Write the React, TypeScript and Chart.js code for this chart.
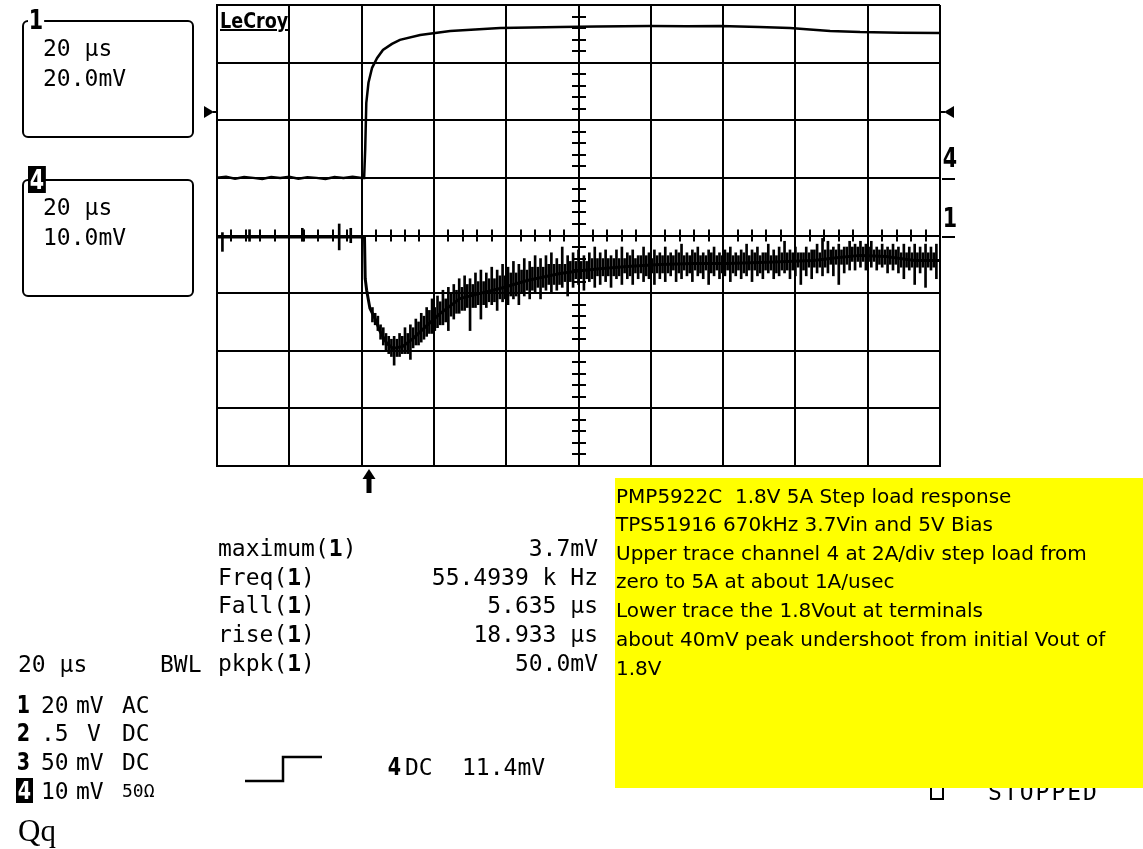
import React, { useEffect, useRef } from "react";
import { Chart, registerables } from "chart.js";

Chart.register(...registerables);

// ---------- scope settings ----------
const timeMinUs = 0;
const timeMaxUs = 200;
const timePerDivUs = 20;
const divMin = -4;
const divMax = 4;
const ch1MvPerDiv = 20;
const ch1OffsetDiv = 0;
const ch4AmpsPerDiv = 2;
const ch4OffsetDiv = 1;
const triggerTimeUs = 42;
const triggerLevelAmps = 2.3;

// ---------- channel 4 (load current, A) ----------
const ch4TimesUs = [
  0, 2.5, 5, 7.5, 10, 12.5, 15, 17.5, 20, 22.5, 25, 27.5, 30, 32.5, 35, 37.5, 40.0,
  40.7, 41.0, 41.3, 41.9, 42.9, 44.3, 45.9, 48.4, 50.6, 56.2, 64.5, 78.3, 94.9, 105.0,
  119.8, 130.0, 139.1, 150.0, 158.5, 164.0, 169.6, 177.9, 188.9, 200.0,
];
const ch4Amps = [
  0, 0.04, -0.03, 0.03, 0, -0.04, 0.03, 0, 0.04, -0.03, 0.02, 0, -0.04, 0.03, 0, 0.04, 0,
  0, 1.0, 2.6, 3.3, 3.82, 4.16, 4.44, 4.65, 4.79, 4.96, 5.1, 5.2, 5.24, 5.25,
  5.27, 5.26, 5.27, 5.24, 5.2, 5.15, 5.1, 5.06, 5.04, 5.03,
];

// ---------- channel 1 (Vout AC, mV) ----------
const ch1TimesUs = [
  0, 40.8, 41.0, 41.4, 42.3, 43.7, 45.1, 47.0, 48.7, 51.4, 54.2, 58.1, 61.7, 67.2, 72.8,
  78.3, 85.8, 94.9, 100.4, 105.9, 113.4, 122.5, 131.7, 140.9, 150.0, 165.0, 172.0, 178.0,
  185.0, 193.0, 200.0,
];
const ch1Mv = [
  -0.5, -0.5, -15, -19, -25.3, -28.8, -33.3, -37.5, -39.2, -38.5, -35.8, -31.2, -27.1, -21.9,
  -20.1, -18.4, -15.6, -13.2, -12.2, -11.5, -10.8, -10.1, -9.7, -9.7, -9.4, -8.7, -7.6, -6.9,
  -7.3, -8.7, -8.7,
];

// switching ripple spikes on channel 1 (peak-detect min / max, mV)
const ch1SpikeTimesUs = [
  1.5, 9.0, 23.6, 33.8, 37.0,
  43.0, 44.5, 46.0, 47.5, 49.0, 50.5, 52.0, 53.5, 55.0, 56.5,
  58.0, 59.5, 61.0, 62.5, 64.0, 65.5, 67.0, 68.5, 70.0, 71.5,
  73.0, 74.5, 76.0, 77.5, 79.0, 80.5, 82.0, 83.5, 85.0, 86.5,
  88.0, 89.5, 91.0, 92.5, 94.0, 95.5, 97.0, 98.5, 100.0, 101.5,
  103.0, 104.5, 106.0, 107.5, 109.0, 110.5, 112.0, 113.5, 115.0, 116.5,
  118.0, 119.5, 121.0, 122.5, 124.0, 125.5, 127.0, 128.5, 130.0, 131.5,
  133.0, 134.5, 136.0, 137.5, 139.0, 140.5, 142.0, 143.5, 145.0, 146.5,
  148.0, 149.5, 151.0, 152.5, 154.0, 155.5, 157.0, 158.5, 160.0, 161.5,
  163.0, 164.5, 166.0, 167.5, 169.0, 170.5, 172.0, 173.5, 175.0, 176.5,
  178.0, 179.5, 181.0, 182.5, 184.0, 185.5, 187.0, 188.5, 190.0, 191.5,
  193.0, 194.5, 196.0, 197.5, 199.0,
];
const ch1SpikeLowMv = [
  -5.5, -2, -2, -5, -2.5,
  -30, -33, -38, -41, -45, -42, -41, -43, -38, -37,
  -35, -34, -32, -31, -33, -29, -27, -26, -33, -25,
  -29, -25, -24, -26, -23, -24, -22, -24, -21, -22,
  -20, -22, -19, -20, -19, -18, -21, -18, -17, -19,
  -16, -18, -17, -16, -18, -15, -17, -15, -17, -15,
  -16, -15, -17, -15, -16, -14, -16, -15, -14, -16,
  -14, -15, -17, -14, -15, -14, -16, -14, -15, -14,
  -16, -14, -15, -13, -15, -14, -13, -15, -14, -17,
  -14, -15, -13, -14, -13, -14, -17, -13, -12, -12,
  -11, -12, -11, -12, -11, -13, -12, -13, -15, -12,
  -17, -13, -18, -12, -15,
];
const ch1SpikeHighMv = [
  1, 2, 2.5, 4, 2.5,
  -25, -28, -32, -35, -35, -34, -32, -31, -29, -27,
  -25, -22, -21, -19, -18, -17, -15, -14, -15, -13,
  -12, -13, -11, -12, -10, -11, -9, -10, -8, -9,
  -7, -8, -7, -6, -8, -4, -7, -6, -5, -7,
  -6, -4, -6, -5, -7, -5, -4, -6, -5, -7,
  -4, -6, -5, -6, -4, -6, -5, -3, -6, -5,
  -4, -6, -5, -4, -6, -5, -4, -6, -5, -3,
  -5, -4, -6, -3, -5, -4, -2, -5, -4, -6,
  -4, -5, -3, -1, -2, -4, -3, -4, -2, -3,
  -2, -3, -2, -4, -3, -4, -3, -4, -3, -4,
  -3, -4, -3, -4, -3,
];

// smaller ringing between the main spikes (mV)
const ch1RingTimesUs = [
  43.75, 45.25, 46.75, 48.25, 49.75, 51.25, 52.75, 54.25, 55.75, 57.25,
  58.75, 60.25, 61.75, 63.25, 64.75, 66.25, 67.75, 69.25, 70.75, 72.25,
  73.75, 75.25, 76.75, 78.25, 79.75, 81.25, 82.75, 84.25, 85.75, 87.25,
  88.75, 90.25, 91.75, 93.25, 94.75, 96.25, 97.75, 99.25, 100.75, 102.25,
  103.75, 105.25, 106.75, 108.25, 109.75, 111.25, 112.75, 114.25, 115.75, 117.25,
  118.75, 120.25, 121.75, 123.25, 124.75, 126.25, 127.75, 129.25, 130.75, 132.25,
  133.75, 135.25, 136.75, 138.25, 139.75, 141.25, 142.75, 144.25, 145.75, 147.25,
  148.75, 150.25, 151.75, 153.25, 154.75, 156.25, 157.75, 159.25, 160.75, 162.25,
  163.75, 165.25, 166.75, 168.25, 169.75, 171.25, 172.75, 174.25, 175.75, 177.25,
  178.75, 180.25, 181.75, 183.25, 184.75, 186.25, 187.75, 189.25, 190.75, 192.25,
  193.75, 195.25, 196.75, 198.25,
];
const ch1RingLowMv = [
  -31, -36, -40, -42, -42, -41, -41, -39, -38, -36,
  -34, -33, -31, -30, -28, -27, -26, -25, -25, -24,
  -24, -23, -23, -22, -22, -21, -21, -20, -19, -19,
  -18, -18, -17, -17, -17, -16, -16, -15, -15, -15,
  -15, -14, -14, -14, -14, -14, -13, -14, -13, -13,
  -14, -13, -13, -13, -13, -12, -13, -12, -13, -12,
  -13, -12, -13, -12, -13, -12, -13, -12, -13, -12,
  -12, -13, -12, -12, -13, -12, -12, -12, -11, -12,
  -11, -11, -11, -11, -10, -10, -10, -10, -9, -9,
  -9, -9, -9, -10, -10, -10, -10, -11, -11, -11,
  -11, -11, -11, -11,
];
const ch1RingHighMv = [
  -27, -31, -34, -36, -36, -35, -34, -32, -30, -28,
  -26, -25, -23, -22, -20, -19, -18, -17, -17, -16,
  -16, -15, -15, -14, -14, -13, -13, -12, -12, -11,
  -11, -11, -10, -10, -10, -10, -9, -9, -9, -9,
  -8, -8, -8, -8, -8, -8, -8, -7, -8, -7,
  -7, -8, -7, -7, -7, -7, -6, -7, -7, -6,
  -7, -7, -6, -7, -7, -6, -7, -7, -6, -7,
  -6, -7, -6, -7, -7, -6, -6, -6, -6, -6,
  -6, -5, -6, -5, -5, -5, -5, -4, -4, -4,
  -4, -4, -5, -5, -5, -5, -5, -6, -6, -6,
  -6, -6, -6, -6,
];

// ---------- texts ----------
const measureLabels = ["maximum", "Freq", "Fall", "rise", "pkpk"];
const measureValues = ["3.7mV", "55.4939 k Hz", "5.635 µs", "18.933 µs", "50.0mV"];
const channelNums = ["1", "2", "3", "4"];
const channelScales = ["20", ".5", "50", "10"];
const channelUnits = ["mV", "V", "mV", "mV"];
const channelCoupling = ["AC", "DC", "DC", "50Ω"];
const noteLines = [
  "PMP5922C  1.8V 5A Step load response",
  "TPS51916 670kHz 3.7Vin and 5V Bias",
  "Upper trace channel 4 at 2A/div step load from",
  "zero to 5A at about 1A/usec",
  "Lower trace the 1.8Vout at terminals",
  "about 40mV peak undershoot from initial Vout of",
  "1.8V",
];

const MONO = '"DejaVu Sans Mono", "Liberation Mono", monospace';
const NARROW = '"Liberation Sans Narrow", "DejaVu Sans Condensed", "DejaVu Sans", sans-serif';

const ch4Div = (a: number) => ch4OffsetDiv + a / ch4AmpsPerDiv;
const ch1Div = (mv: number) => ch1OffsetDiv + mv / ch1MvPerDiv;

const scopePlugin = {
  id: "scopeMarks",
  beforeDatasetsDraw(chart: any) {
    const { ctx, scales } = chart;
    const x = scales.x;
    const y = scales.y;
    ctx.save();
    ctx.strokeStyle = "#000";
    ctx.lineWidth = 2;
    const y0 = y.getPixelForValue(0);
    const nX = Math.round((timeMaxUs - timeMinUs) / (timePerDivUs / 5));
    for (let k = 0; k <= nX; k++) {
      const px = Math.round(x.getPixelForValue(timeMinUs + (k * timePerDivUs) / 5));
      ctx.beginPath();
      ctx.moveTo(px, y0 - 6);
      ctx.lineTo(px, y0 + 6);
      ctx.stroke();
    }
    const xc = Math.round(x.getPixelForValue((timeMinUs + timeMaxUs) / 2));
    const nY = (divMax - divMin) * 5;
    for (let k = 0; k <= nY; k++) {
      const py = Math.round(y.getPixelForValue(divMin + k / 5));
      ctx.beginPath();
      ctx.moveTo(xc - 7, py);
      ctx.lineTo(xc + 7, py);
      ctx.stroke();
    }
    ctx.restore();
  },
  afterDraw(chart: any) {
    const { ctx, chartArea: a, scales } = chart;
    const x = scales.x;
    const y = scales.y;
    ctx.save();
    ctx.fillStyle = "#000";
    ctx.strokeStyle = "#000";
    ctx.lineWidth = 2;
    // trigger level markers
    const ty = Math.round(y.getPixelForValue(ch4Div(triggerLevelAmps)));
    ctx.beginPath();
    ctx.moveTo(a.left - 13, ty - 6);
    ctx.lineTo(a.left - 3, ty);
    ctx.lineTo(a.left - 13, ty + 6);
    ctx.closePath();
    ctx.fill();
    ctx.beginPath();
    ctx.moveTo(a.left - 4, ty);
    ctx.lineTo(a.left, ty);
    ctx.stroke();
    ctx.beginPath();
    ctx.moveTo(a.right + 14, ty - 6);
    ctx.lineTo(a.right + 4, ty);
    ctx.lineTo(a.right + 14, ty + 6);
    ctx.closePath();
    ctx.fill();
    ctx.beginPath();
    ctx.moveTo(a.right, ty);
    ctx.lineTo(a.right + 5, ty);
    ctx.stroke();
    // channel offset markers
    [ch4OffsetDiv, ch1OffsetDiv].forEach((d) => {
      const py = Math.round(y.getPixelForValue(d)) + 1;
      ctx.beginPath();
      ctx.moveTo(a.right + 2, py);
      ctx.lineTo(a.right + 15, py);
      ctx.stroke();
    });
    // trigger time arrow
    const tx = Math.round(x.getPixelForValue(triggerTimeUs));
    const b = a.bottom;
    ctx.beginPath();
    ctx.moveTo(tx, b + 3);
    ctx.lineTo(tx - 6.5, b + 13);
    ctx.lineTo(tx + 6.5, b + 13);
    ctx.closePath();
    ctx.fill();
    ctx.fillRect(tx - 2.5, b + 12, 5, 15);
    ctx.restore();
  },
};

function Txt(props: {
  x?: number;
  right?: number;
  cy: number;
  size?: number;
  font?: string;
  bold?: boolean;
  children: any;
  style?: any;
}) {
  const size = props.size ?? 23;
  const st: any = {
    position: "absolute",
    top: props.cy - size * 0.5,
    fontSize: size,
    lineHeight: `${size}px`,
    fontFamily: props.font ?? MONO,
    fontWeight: props.bold ? "bold" : "normal",
    whiteSpace: "pre",
    color: "#000",
    ...props.style,
  };
  if (props.right !== undefined) {
    st.right = 1143 - props.right;
    st.textAlign = "right";
  } else st.left = props.x;
  return <div style={st}>{props.children}</div>;
}

function Glyph(props: {
  x: number;
  cy: number;
  ch: string;
  inverse?: boolean;
  size?: number;
  clear?: boolean;
}) {
  const size = props.size ?? 27;
  return (
    <div
      style={{
        position: "absolute",
        left: props.x,
        top: props.cy - size * 0.52,
        height: size,
        fontSize: size,
        lineHeight: `${size}px`,
        fontFamily: NARROW,
        fontWeight: "bold",
        color: props.inverse ? "#fff" : "#000",
        background: props.inverse ? "#000" : props.clear ? "transparent" : "#fff",
        padding: props.inverse ? "0 2px" : "0 1px",
        transform: "scaleX(0.85)",
        transformOrigin: "left center",
      }}
    >
      {props.ch}
    </div>
  );
}

function InfoBox(props: { top: number; label: string; inverse?: boolean; line1: string; line2: string }) {
  return (
    <>
      <div
        style={{
          position: "absolute",
          left: 22,
          top: props.top,
          width: 168,
          height: 114,
          border: "2px solid #000",
          borderRadius: 6,
          boxSizing: "content-box",
        }}
      />
      <Glyph x={28} cy={props.top + (props.inverse ? 1 : 0)} ch={props.label} inverse={props.inverse} />
      <Txt x={43} cy={props.top + 28}>{props.line1}</Txt>
      <Txt x={43} cy={props.top + 58}>{props.line2}</Txt>
    </>
  );
}

export default function App() {
  const canvasRef = useRef<HTMLCanvasElement | null>(null);

  useEffect(() => {
    const canvas = canvasRef.current;
    if (!canvas) return;
    const gridStyle = { color: "#000", lineWidth: 2, drawTicks: false, offset: false };
    const chart = new Chart(canvas, {
      type: "line",
      data: {
        datasets: [
          {
            type: "line",
            label: "Ch4",
            data: ch4TimesUs.map((t, i) => ({ x: t, y: ch4Div(ch4Amps[i]) })),
            borderColor: "#000",
            borderWidth: 2.5,
            pointRadius: 0,
            tension: 0,
          },
          {
            type: "line",
            label: "Ch1",
            data: ch1TimesUs.map((t, i) => ({ x: t, y: ch1Div(ch1Mv[i]) })),
            borderColor: "#000",
            borderWidth: 3,
            pointRadius: 0,
            tension: 0,
          },
          {
            type: "bar",
            label: "Ch1 ripple",
            data: ch1SpikeTimesUs.map((t, i) => ({
              x: t,
              y: [ch1Div(ch1SpikeLowMv[i]), ch1Div(ch1SpikeHighMv[i])],
            })) as any,
            backgroundColor: "#000",
            borderWidth: 0,
            barThickness: 2,
            grouped: false,
          } as any,
          {
            type: "bar",
            label: "Ch1 ringing",
            data: ch1RingTimesUs.map((t, i) => ({
              x: t,
              y: [ch1Div(ch1RingLowMv[i]), ch1Div(ch1RingHighMv[i])],
            })) as any,
            backgroundColor: "#000",
            borderWidth: 0,
            barThickness: 2,
            grouped: false,
          } as any,
        ],
      },
      options: {
        responsive: false,
        animation: false,
        events: [],
        layout: { padding: { left: 217, right: 203, top: 5, bottom: 383 } },
        plugins: { legend: { display: false }, tooltip: { enabled: false } },
        scales: {
          x: {
            type: "linear",
            min: timeMinUs,
            max: timeMaxUs,
            offset: false,
            ticks: { display: false, stepSize: timePerDivUs },
            grid: gridStyle,
            border: { color: "#000", width: 2 },
          },
          y: {
            type: "linear",
            min: divMin,
            max: divMax,
            ticks: { display: false, stepSize: 1 },
            grid: gridStyle,
            border: { color: "#000", width: 2 },
          },
        },
      } as any,
      plugins: [scopePlugin],
    });
    return () => chart.destroy();
  }, []);

  const measureRows = [548, 577, 605, 634, 663];
  const chanRows = [705, 733, 762, 791];
  const noteRows = [496, 524, 553, 581, 610, 639, 668];

  return (
    <div
      style={{
        position: "absolute",
        left: 0,
        top: 0,
        width: 1143,
        height: 849,
        overflow: "hidden",
        background: "#fff",
      }}
    >
      <style>{"body{margin:0}"}</style>
      <canvas ref={canvasRef} width={1143} height={849} style={{ position: "absolute", left: 0, top: 0 }} />

      {/* logo */}
      <div
        style={{
          position: "absolute",
          left: 220,
          top: 8,
          fontFamily: '"DejaVu Sans", sans-serif',
          fontWeight: "bold",
          fontSize: 22,
          lineHeight: "25px",
          textDecoration: "underline",
          textDecorationThickness: "2px",
          transform: "scaleX(0.8)",
          transformOrigin: "left center",
        }}
      >
        LeCroy
      </div>

      {/* channel boxes */}
      <InfoBox top={20} label="1" line1="20 µs" line2="20.0mV" />
      <InfoBox top={179} label="4" inverse line1="20 µs" line2="10.0mV" />

      {/* right trace markers */}
      <Glyph x={942} cy={158} ch="4" clear />
      <Glyph x={942} cy={218} ch="1" clear />

      {/* measurements */}
      {measureLabels.map((l, i) => (
        <Txt key={"ml" + i} x={218} cy={measureRows[i]}>
          {l}(
          <span style={{ fontWeight: "bold" }}>1</span>)
        </Txt>
      ))}
      {measureValues.map((v, i) => (
        <Txt key={"mv" + i} right={598} cy={measureRows[i]}>
          {v}
        </Txt>
      ))}

      {/* timebase / channel list */}
      <Txt x={18} cy={664}>20 µs</Txt>
      <Txt x={160} cy={664}>BWL</Txt>
      {channelNums.map((n, i) => (
        <React.Fragment key={"ch" + i}>
          <Glyph x={16} cy={chanRows[i]} ch={n} inverse={i === 3} size={25} />
          <Txt x={41} cy={chanRows[i]}>{channelScales[i]}</Txt>
          <Txt x={channelUnits[i] === "V" ? 87 : 76} cy={chanRows[i]}>{channelUnits[i]}</Txt>
          <Txt x={122} cy={chanRows[i]} size={i === 3 ? 18 : 23}>{channelCoupling[i]}</Txt>
        </React.Fragment>
      ))}

      {/* trigger slope symbol */}
      <svg style={{ position: "absolute", left: 240, top: 750 }} width={90} height={40}>
        <polyline points="5,31 43,31 43,7 82,7" fill="none" stroke="#000" strokeWidth={2.5} />
      </svg>
      <Glyph x={387} cy={767} ch="4" size={25} />
      <Txt x={405} cy={767}>DC</Txt>
      <Txt x={462} cy={767}>11.4mV</Txt>

      {/* stopped status (partly hidden) */}
      <div
        style={{ position: "absolute", left: 930, top: 784, width: 10, height: 12, border: "2px solid #000" }}
      />
      <Txt x={988} cy={792} style={{ letterSpacing: "2px" }}>STOPPED</Txt>

      {/* yellow annotation */}
      <div
        style={{
          position: "absolute",
          left: 615,
          top: 478,
          width: 528,
          height: 310,
          background: "#ffff00",
        }}
      >
        {noteLines.map((l, i) => (
          <Txt
            key={"n" + i}
            x={1}
            cy={noteRows[i] - 478}
            size={20}
            font='"DejaVu Sans", sans-serif'
          >
            {l}
          </Txt>
        ))}
      </div>

      <Txt x={18} cy={830} size={31} font='"Liberation Serif", "Times New Roman", serif'>
        Qq
      </Txt>
    </div>
  );
}
